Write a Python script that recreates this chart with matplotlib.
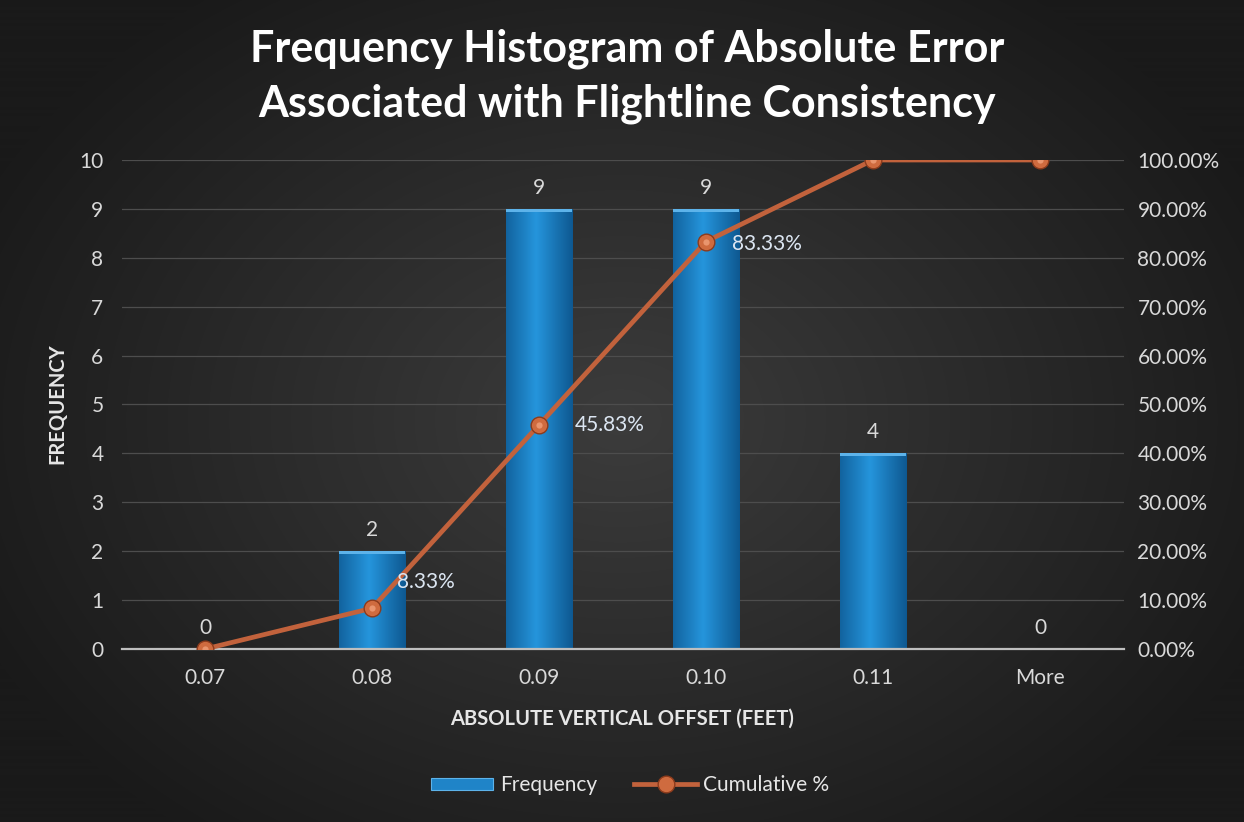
import numpy as np
import matplotlib
matplotlib.use("Agg")
import matplotlib.pyplot as plt
from matplotlib.patches import Patch
from matplotlib.lines import Line2D
from matplotlib.ticker import FuncFormatter, MultipleLocator

# ---- data ----
categories = ["0.07", "0.08", "0.09", "0.10", "0.11", "More"]
frequency = [0, 2, 9, 9, 4, 0]
cumulative_pct = [0.0, 8.33, 45.83, 83.33, 100.0, 100.0]
title = "Frequency Histogram of Absolute Error\nAssociated with Flightline Consistency"
xlabel = "ABSOLUTE VERTICAL OFFSET (FEET)"
ylabel = "FREQUENCY"

plt.rcParams['font.family'] = ['Lato', 'DejaVu Sans']

W, H = 1244, 822
fig = plt.figure(figsize=(W / 100, H / 100), dpi=100)

# background radial gradient
bg = fig.add_axes([0, 0, 1, 1], zorder=-10)
yy, xx = np.mgrid[0:H, 0:W]
r = np.sqrt(((xx - 620) / 700.0) ** 2 + ((yy - 420) / 520.0) ** 2)
r = np.clip(r, 0, 1)
c_in = np.array([0x3c, 0x3c, 0x3c]) / 255.0
c_out = np.array([0x1a, 0x1a, 0x1a]) / 255.0
img = c_in[None, None, :] * (1 - r[..., None]) + c_out[None, None, :] * r[..., None]
bg.imshow(img, extent=[0, 1, 0, 1], aspect='auto', origin='upper')
bg.axis('off')

ax = fig.add_axes([121.5 / W, 1 - 649 / H, 1002 / W, 489 / H])
ax.set_facecolor('none')
x = np.arange(len(categories))
ax.set_xlim(-0.5, len(categories) - 0.5)
ax.set_ylim(0, 10)

# bars with horizontal gradient
bar_w = 0.40
bars = ax.bar(x, frequency, width=bar_w, color='#1b7fc2', zorder=2)
grad = np.linspace(0, 1, 64)
prof = 1 - np.abs(grad - 0.45) * 2  # lighter near center
dark = np.array([0x10, 0x5e, 0x98]) / 255.0
light = np.array([0x25, 0x95, 0xdc]) / 255.0
gimg = dark[None, :] * (1 - prof[:, None]) + light[None, :] * prof[:, None]
gimg = gimg[None, :, :]
for b in bars:
    if b.get_height() <= 0:
        continue
    x0, y0 = b.get_x(), b.get_y()
    im = ax.imshow(gimg, extent=[x0, x0 + b.get_width(), y0, y0 + b.get_height()],
                   aspect='auto', zorder=2.1)
    im.set_clip_path(b)
    ax.fill_between([x0, x0 + b.get_width()], y0 + b.get_height() - 0.06,
                    y0 + b.get_height(), color='#5db3ea', zorder=2.2, lw=0)

for xi, v in zip(x, frequency):
    ax.annotate(str(v), (xi, v), xytext=(0, 8), textcoords='offset points',
                ha='center', va='bottom', color='#d9d9d9', fontsize=15, zorder=5)

ax.set_xticks(x)
ax.set_xticklabels(categories)
ax.yaxis.set_major_locator(MultipleLocator(1))
ax.tick_params(axis='x', length=0, pad=14, colors='#d9d9d9', labelsize=15)
ax.tick_params(axis='y', length=0, pad=13, colors='#d9d9d9', labelsize=15)
for s in ['top', 'right', 'left']:
    ax.spines[s].set_visible(False)
ax.spines['bottom'].set_color('#bfbfbf')
ax.spines['bottom'].set_linewidth(1.6)
ax.spines['bottom'].set_zorder(3)
ax.grid(axis='y', color='#4d4d4d', lw=0.9, zorder=0)
ax.set_axisbelow(True)

# secondary axis
ax2 = ax.twinx()
ax2.set_ylim(0, 100)
ax2.yaxis.set_major_locator(MultipleLocator(10))
ax2.yaxis.set_major_formatter(FuncFormatter(lambda v, p: f"{v:.2f}%"))
ax2.tick_params(axis='y', length=0, pad=10, colors='#d9d9d9', labelsize=15)
for s in ax2.spines.values():
    s.set_visible(False)

line_color = '#c2623c'
ax2.plot(x, cumulative_pct, color=line_color, lw=3.4, zorder=6,
         marker='o', markersize=12, markerfacecolor='#cf6b3f',
         markeredgecolor='#8c3b1c', markeredgewidth=1.0)
ax2.plot(x, cumulative_pct, ls='none', marker='o', markersize=4.5,
         markerfacecolor='#f0a07a', markeredgewidth=0, zorder=7, alpha=0.8)

label_offsets = {1: (18, 19), 2: (26, 0), 3: (19, -2)}
for i, (ox, oy) in label_offsets.items():
    ax2.annotate(f"{cumulative_pct[i]:.2f}%", (x[i], cumulative_pct[i]),
                 xytext=(ox, oy), textcoords='offset points', ha='left', va='center',
                 color='#dce6f2', fontsize=15, zorder=8)

fig.text(0.504, 1 - 76 / H, title, ha='center', va='center', color='white',
         fontsize=31, fontweight='bold', linespacing=1.45)
fig.text(622 / W, 1 - 719 / H, xlabel, ha='center', va='center', color='#e6e6e6',
         fontsize=14.5, fontweight='bold')
fig.text(57 / W, 1 - 404 / H, ylabel, ha='center', va='center', color='#e6e6e6',
         fontsize=14.5, fontweight='bold', rotation=90)

handles = [Patch(facecolor='#1f84c8', edgecolor='#5db3ea', lw=0.8),
           Line2D([0], [0], color=line_color, lw=3.4, marker='o', markersize=12,
                  markerfacecolor='#cf6b3f', markeredgecolor='#8c3b1c')]
leg = fig.legend(handles, ["Frequency", "Cumulative %"], loc='center',
                 bbox_to_anchor=(630 / W, 1 - 785 / H), ncol=2, frameon=False,
                 fontsize=15, handlelength=3.0, handleheight=0.5, columnspacing=1.8,
                 handletextpad=0.3)
for t in leg.get_texts():
    t.set_color('#e6e6e6')

fig.savefig("out.png", dpi=100)
